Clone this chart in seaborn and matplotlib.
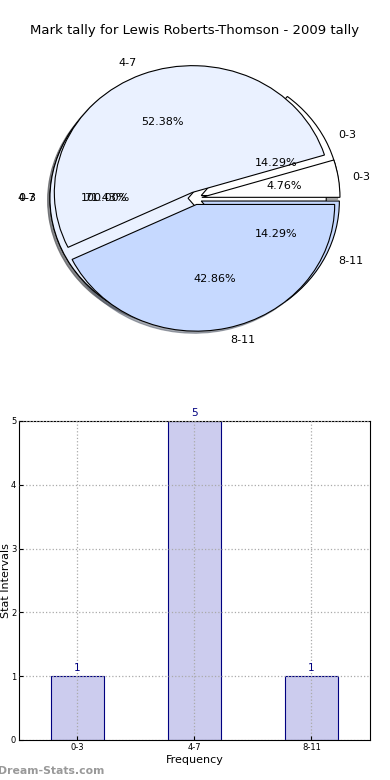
import matplotlib
matplotlib.use("Agg")
import matplotlib.pyplot as plt
import seaborn as sns
import pandas as pd

# data
title = "Mark tally for Lewis Roberts-Thomson - 2009 tally"
pie_labels_a = ["0-3"]
pie_values_a = [1]
pie_labels_b = ["0-3", "4-7", "8-11"]
pie_values_b = [1, 5, 1]
pie_labels_c = ["0-3", "4-7", "8-11"]
pie_values_c = [1, 11, 9]

categories = ["0-3", "4-7", "8-11"]
counts = [1, 5, 1]

sns.set_style("white")
plt.rcParams['font.family'] = ['DejaVu Sans']
plt.rcParams['text.color'] = 'black'
plt.rcParams['axes.labelcolor'] = 'black'
plt.rcParams['xtick.color'] = 'black'
plt.rcParams['ytick.color'] = 'black'

pie_colors = ['white', '#eaf1ff', '#c6d9ff']

fig = plt.figure(figsize=(3.9, 7.8), dpi=100)

#---------- pie (three pies drawn on the same axes)
ax1 = fig.add_axes([0.036, 0.533, 0.928, 0.4256])
for labs, vals in [(pie_labels_a, pie_values_a),
                   (pie_labels_b, pie_values_b),
                   (pie_labels_c, pie_values_c)]:
    wedges, texts, autotexts = ax1.pie(
        vals, labels=labs, colors=pie_colors[:len(vals)],
        explode=[0.05] * len(vals), autopct='%1.2f%%',
        shadow={'ox': -0.012, 'oy': -0.012, 'shade': 0.6},
        pctdistance=0.6, labeldistance=1.1,
        wedgeprops={'edgecolor': 'black', 'linewidth': 0.8},
        textprops={'fontsize': 8, 'color': 'black'})
ax1.set_aspect('auto')
ax1.set_xlim(-1.31, 1.31)
ax1.set_ylim(-1.31, 1.31)
fig.text(0.5, 0.961, title, ha='center', va='center', fontsize=9.5, color='black')

#---------- bars
ax2 = fig.add_axes([0.0487, 0.0513, 0.9, 0.409])
df = pd.DataFrame({'cat': categories, 'n': counts})
sns.barplot(data=df, x='cat', y='n', ax=ax2, width=0.45,
            color='#ccccee', edgecolor='navy', linewidth=0.8, saturation=1)
for i, v in enumerate(counts):
    ax2.text(i, v + 0.05, str(v), ha='center', va='bottom', color='navy', fontsize=7.5)
ax2.set_xlim(-0.5, 2.5)
ax2.set_ylim(0, 5)
ax2.set_yticks(range(6))
ax2.grid(True, linestyle=':', color='#aaaaaa', linewidth=0.9)
ax2.set_axisbelow(False)
for sp in ax2.spines.values():
    sp.set_color('black')
    sp.set_linewidth(0.8)
ax2.tick_params(labelsize=6, direction='in', length=3, pad=2, left=True, bottom=True)
ax2.set_xlabel("Frequency", fontsize=8, labelpad=2)
ax2.set_ylabel("Stat Intervals", fontsize=8, labelpad=0)

fig.text(-0.005, 0.012, "Dream-Stats.com", ha='left', va='center',
         fontsize=7.8, color='#999999', fontweight='bold')

fig.savefig("out.png", dpi=100)
